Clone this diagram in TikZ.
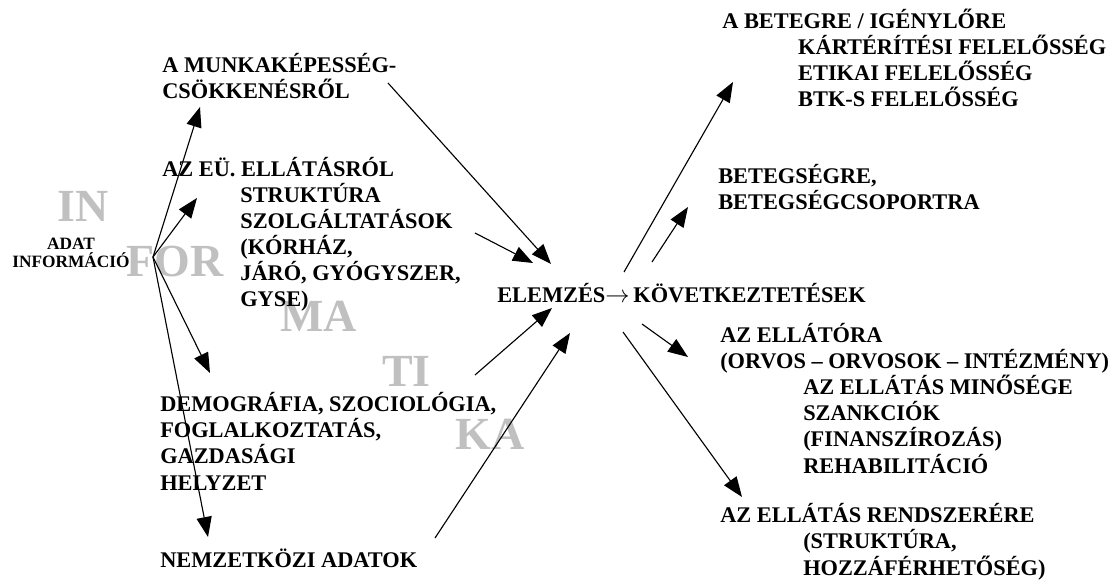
\documentclass[tikz,border=0pt]{standalone}
\usepackage{fontspec}
\setmainfont{Liberation Serif}
\usepackage{tikz}
\usetikzlibrary{arrows.meta}
\definecolor{wmgray}{RGB}{192, 192, 192}
\newlength{\ind}
\setlength{\ind}{55.5pt}

\begin{document}
\begin{tikzpicture}[x=0.025cm,y=-0.025cm,
  txt/.style={anchor=base west,inner sep=0pt,align=left,font=\fontsize{15.9}{18.5}\selectfont\bfseries},
  wm/.style={anchor=base west,inner sep=0pt,text=wmgray,font=\fontsize{32.7}{36}\selectfont\bfseries},
  arr/.style={line width=0.8pt,-{Triangle[length=5mm,width=3.8mm]}}]
\useasboundingbox (0,0) rectangle (1119,583);
% watermark
\node[wm] (w1) at (57,222) {IN};
\node[wm] (w2) at (126,277) {FOR};
\node[wm] (w3) at (280,332) {MA};
\node[wm] (w4) at (382,387) {TI};
\node[wm] (w5) at (455,449) {KA};
% left column (nodes sit on the baseline of their last line)
\node[anchor=base,inner sep=0pt,align=center,font=\fontsize{12.3}{13.5}\selectfont\bfseries] (adat) at (71,268) {ADAT\\INFORMÁCIÓ};
\node[txt] (munka) at (162,99) {A MUNKAKÉPESSÉG-\\CSÖKKENÉSRŐL};
\node[txt] (euell) at (162,307) {AZ EÜ. ELLÁTÁSRÓL\\\hspace*{\ind}STRUKTÚRA\\\hspace*{\ind}SZOLGÁLTATÁSOK\\\hspace*{\ind}(KÓRHÁZ,\\\hspace*{\ind}JÁRÓ, GYÓGYSZER,\\\hspace*{\ind}GYSE)};
\node[txt] (demog) at (160,490) {DEMOGRÁFIA, SZOCIOLÓGIA,\\FOGLALKOZTATÁS,\\GAZDASÁGI\\HELYZET};
\node[txt] (nemz) at (160,567) {NEMZETKÖZI ADATOK};
% middle
\node[txt] (elem) at (497,303) {ELEMZÉS$\rightarrow$\,KÖVETKEZTETÉSEK};
% right column
\node[txt] (beteg) at (722,107) {A BETEGRE / IGÉNYLŐRE\\\hspace*{54pt}KÁRTÉRÍTÉSI FELELŐSSÉG\\\hspace*{54pt}ETIKAI FELELŐSSÉG\\\hspace*{54pt}BTK-S FELELŐSSÉG};
\node[txt] (betsg) at (718,210) {BETEGSÉGRE,\\BETEGSÉGCSOPORTRA};
\node[txt] (ellato) at (720,473) {AZ ELLÁTÓRA\\(ORVOS – ORVOSOK – INTÉZMÉNY)\\\hspace*{59pt}AZ ELLÁTÁS MINŐSÉGE\\\hspace*{59pt}SZANKCIÓK\\\hspace*{59pt}(FINANSZÍROZÁS)\\\hspace*{59pt}REHABILITÁCIÓ};
\node[txt] (rendsz) at (720,575) {AZ ELLÁTÁS RENDSZERÉRE\\\hspace*{59pt}(STRUKTÚRA,\\\hspace*{59pt}HOZZÁFÉRHETŐSÉG)};
% arrow ends
\coordinate (src) at (153,257);
\coordinate (munkain) at (200,107);
\coordinate (euin) at (197,198);
\coordinate (demin) at (210,373);
\coordinate (nemin) at (208,537);
\coordinate (munkaout) at (388,83);
\coordinate (euout) at (475,233);
\coordinate (demout) at (475,375);
\coordinate (nemout) at (435,538);
\coordinate (elin1) at (551,264);
\coordinate (elin2) at (533,263);
\coordinate (elin3) at (552,308);
\coordinate (elin4) at (570,333);
\coordinate (kov1) at (624,272);
\coordinate (kov2) at (652,262);
\coordinate (kov3) at (642,324);
\coordinate (kov4) at (623,332);
\coordinate (betegin) at (733,82);
\coordinate (betsgin) at (688,207);
\coordinate (ellatoin) at (688,357);
\coordinate (rendszin) at (742,497);
% arrows
\draw[arr] (src) -- (munkain);
\draw[arr] (src) -- (euin);
\draw[arr] (src) -- (demin);
\draw[arr] (src) -- (nemin);
\draw[arr] (munkaout) -- (elin1);
\draw[arr] (euout) -- (elin2);
\draw[arr] (demout) -- (elin3);
\draw[arr] (nemout) -- (elin4);
\draw[arr] (kov1) -- (betegin);
\draw[arr] (kov2) -- (betsgin);
\draw[arr] (kov3) -- (ellatoin);
\draw[arr] (kov4) -- (rendszin);
\end{tikzpicture}
\end{document}
